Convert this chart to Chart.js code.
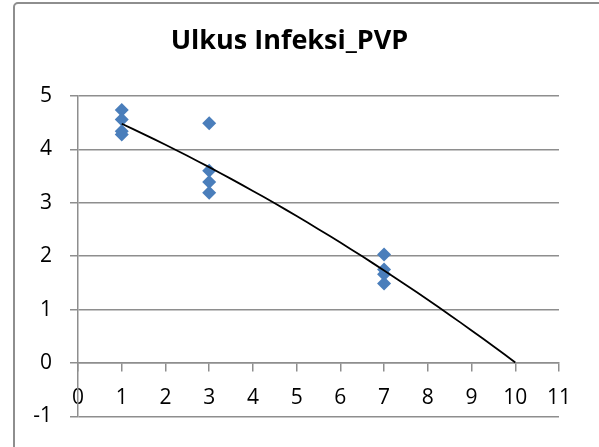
<!DOCTYPE html>
<html>
<head>
<meta charset="utf-8">
<script src="https://cdn.jsdelivr.net/npm/chart.js@4.4.1/dist/chart.umd.min.js"></script>
<style>
  body { margin: 0; background: #fff; overflow: hidden; }
  .wrap { position: relative; width: 599px; height: 447px; }
  .frame {
    position: absolute; left: 13px; top: 2px; width: 640px; height: 500px;
    border: 2px solid #8e8e8e; border-radius: 5px; pointer-events: none;
  }
</style>
</head>
<body>
<div class="wrap">
  <canvas id="chart"></canvas>
  <div class="frame"></div>
</div>
<script>
const title = 'Ulkus Infeksi_PVP';
const dose = [1, 1, 1, 1, 3, 3, 3, 3, 7, 7, 7, 7];
const score = [4.74, 4.56, 4.34, 4.28, 4.49, 3.60, 3.39, 3.19, 2.03, 1.75, 1.66, 1.49];
const xRange = [0, 11];
const yRange = [-1, 5];
const trendRange = [1, 10]; // polynomial trendline, forecast forward to 10

// order-2 least squares fit of the points above
function polyFit(xs, ys) {
  const s = [0, 0, 0, 0, 0], t = [0, 0, 0];
  xs.forEach((x, i) => {
    for (let k = 0; k < 5; k++) s[k] += Math.pow(x, k);
    for (let k = 0; k < 3; k++) t[k] += ys[i] * Math.pow(x, k);
  });
  const m = [[s[0], s[1], s[2], t[0]], [s[1], s[2], s[3], t[1]], [s[2], s[3], s[4], t[2]]];
  for (let i = 0; i < 3; i++) {
    for (let j = i + 1; j < 3; j++) {
      const f = m[j][i] / m[i][i];
      for (let k = i; k < 4; k++) m[j][k] -= f * m[i][k];
    }
  }
  const c = [0, 0, 0];
  for (let i = 2; i >= 0; i--) {
    let v = m[i][3];
    for (let k = i + 1; k < 3; k++) v -= m[i][k] * c[k];
    c[i] = v / m[i][i];
  }
  return c;
}

const coef = polyFit(dose, score);
const trend = [];
for (let x = trendRange[0]; x <= trendRange[1] + 1e-9; x += 0.25) {
  trend.push({ x: x, y: coef[0] + coef[1] * x + coef[2] * x * x });
}

const gridColor = '#8e8e8e';
const tickFont = { family: 'Open Sans', size: 21 };

new Chart(document.getElementById('chart'), {
  type: 'scatter',
  data: {
    datasets: [
      {
        data: trend,
        showLine: true,
        borderColor: '#000',
        borderWidth: 1.8,
        pointRadius: 0,
        order: 0,
      },
      {
        data: dose.map((x, i) => ({ x: x, y: score[i] })),
        pointStyle: 'rectRot',
        pointRadius: 7,
        backgroundColor: '#4a7ebb',
        borderColor: '#4a7ebb',
        borderWidth: 0,
        order: 1,
      },
    ],
  },
  options: {
    responsive: true,
    maintainAspectRatio: false,
    animation: false,
    layout: { padding: { left: 20, right: 40, top: 0, bottom: 29 } },
    plugins: {
      legend: { display: false },
      tooltip: { enabled: false },
      title: {
        display: true,
        text: title,
        color: '#000',
        font: { family: 'Open Sans', size: 27, weight: 'bold' },
        padding: { top: 25, bottom: 38.6 },
      },
    },
    scales: {
      x: {
        type: 'linear',
        position: { y: 0 },
        min: xRange[0],
        max: xRange[1],
        ticks: { stepSize: 1, color: '#000', font: tickFont, padding: 14, maxRotation: 0 },
        grid: { drawOnChartArea: false, drawTicks: true, tickLength: 8, color: gridColor, lineWidth: 1.5 },
        border: { display: true, color: gridColor, width: 1.5 },
      },
      y: {
        min: yRange[0],
        max: yRange[1],
        ticks: { stepSize: 1, color: '#000', font: tickFont, padding: 18 },
        grid: { color: gridColor, lineWidth: 1.5, tickLength: 8 },
        border: { display: true, color: gridColor, width: 1.5 },
        afterFit: (scale) => { scale.width = 58; },
      },
    },
  },
});
</script>
</body>
</html>
